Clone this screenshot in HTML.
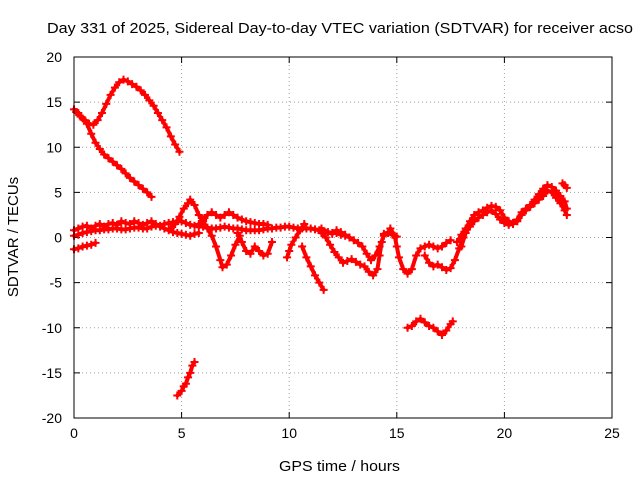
<!DOCTYPE html>
<html><head><meta charset="utf-8"><style>
body{margin:0;background:#fff}
svg{display:block;font-family:"Liberation Sans",sans-serif;font-size:13px}
</style></head><body>
<svg id="chart" width="640" height="480" xmlns="http://www.w3.org/2000/svg">
<text x="47" y="33" font-size="15" textLength="586" lengthAdjust="spacingAndGlyphs">Day 331 of 2025, Sidereal Day-to-day VTEC variation (SDTVAR) for receiver acso</text>
<text x="279" y="471" font-size="15" textLength="121" lengthAdjust="spacingAndGlyphs">GPS time / hours</text>
<text x="18" y="237" text-anchor="middle" font-size="15" transform="rotate(-90 18 237)">SDTVAR / TECUs</text>
<g id="grid"></g><g id="ticks"></g><g id="marks"></g>
<rect x="74" y="57" width="538" height="361" fill="none" stroke="#000" stroke-width="1"/>
</svg>
<script>
const xTicks=[0,5,10,15,20,25];
const yTicks=[-20,-15,-10,-5,0,5,10,15,20];
const trackA=[[0,14.2],[0.2,13.8],[0.4,13.2],[0.6,12.6],[0.8,11.5],[1.0,10.5],[1.2,9.8],[1.4,9.2],[1.6,8.8],[1.8,8.4],[2.0,8.0],[2.2,7.6],[2.4,7.1],[2.6,6.6],[2.8,6.2],[3.0,5.8],[3.2,5.4],[3.4,5.0],[3.6,4.5]];
const trackB=[[0.1,13.9],[0.3,13.4],[0.5,13.0],[0.7,12.6],[0.9,12.5],[1.1,13.0],[1.3,13.8],[1.5,14.8],[1.7,15.8],[1.9,16.6],[2.1,17.2],[2.3,17.5],[2.5,17.3],[2.7,17.0],[2.9,16.7],[3.1,16.3],[3.3,15.8],[3.5,15.2],[3.7,14.6],[3.9,13.8],[4.1,13.0],[4.3,12.2],[4.5,11.2],[4.7,10.3],[4.9,9.5]];
const trackC=[[4.8,-17.5],[5.0,-17.0],[5.1,-16.5],[5.2,-16.2],[5.3,-15.5],[5.4,-15.0],[5.5,-14.2],[5.6,-13.8]];
const trackD=[[15.5,-10.0],[15.7,-9.8],[15.9,-9.3],[16.1,-9.0],[16.3,-9.4],[16.5,-9.8],[16.7,-10.0],[16.9,-10.4],[17.1,-10.8],[17.3,-10.3],[17.5,-9.6],[17.6,-9.3]];
const trackE=[[0,0.8],[0.2,1.0],[0.4,1.2],[0.6,1.3],[0.8,1.0],[1.0,1.3],[1.2,1.5],[1.4,1.2],[1.6,1.5],[1.8,1.6],[2.0,1.4],[2.2,1.8],[2.4,1.6],[2.6,1.5],[2.8,1.8],[3.0,1.6],[3.2,1.4],[3.4,1.6],[3.6,1.8],[3.8,1.5],[4.0,1.2],[4.2,1.0],[4.4,0.8],[4.6,0.6],[4.8,0.5],[5.0,0.4],[5.2,0.3],[5.4,0.2],[5.6,0.4],[5.8,0.5]];
const trackE2=[[0,0.2],[0.2,0.3],[0.4,0.5],[0.6,0.6],[0.8,0.7],[1.0,0.8],[1.2,0.8],[1.4,0.9],[1.6,0.9],[1.8,1.0],[2.0,1.0],[2.2,0.9],[2.4,0.9],[2.6,1.0],[2.8,1.1],[3.0,1.1],[3.2,1.0],[3.4,1.0],[3.6,1.2],[3.8,1.3],[4.0,1.3],[4.2,1.5],[4.4,1.6],[4.6,1.7],[4.8,1.8],[5.0,1.8],[5.2,1.6],[5.4,1.4],[5.6,1.3],[5.8,1.2],[6.0,1.2],[6.2,1.1],[6.4,1.0],[6.6,1.0],[6.8,1.1],[7.0,1.2],[7.2,1.1],[7.4,1.0],[7.6,1.0],[7.8,0.9],[8.0,0.8],[8.2,0.8],[8.4,0.8],[8.6,0.8],[8.8,0.9],[9.0,1.0],[9.2,1.0],[9.4,1.1],[9.6,1.1],[9.8,1.2],[10.0,1.2],[10.2,1.1],[10.4,1.0],[10.6,1.0],[10.8,1.0],[11.0,1.0],[11.2,0.9],[11.4,0.8],[11.6,0.7],[11.8,0.6],[12.0,0.5],[12.2,0.5],[12.4,0.3],[12.6,0.2]];
const trackE3=[[14.4,0.4],[14.6,0.5],[14.8,0.3],[15.0,0.1]];
const trackF=[[0,-1.3],[0.2,-1.2],[0.4,-1.0],[0.6,-0.9],[0.8,-0.8],[1.0,-0.6]];
const trackG=[[4.5,1.0],[4.7,1.5],[4.9,2.3],[5.1,3.2],[5.3,3.8],[5.4,4.2],[5.6,3.6],[5.8,2.5],[6.0,1.8],[6.2,1.0],[6.4,0.2],[6.6,-1.0],[6.8,-2.5],[6.9,-3.3],[7.1,-3.0],[7.3,-2.0],[7.5,-0.8],[7.7,0.2]];
const trackH=[[5.8,1.5],[6.0,2.0],[6.2,2.5],[6.4,2.8],[6.6,2.5],[6.8,2.2],[7.0,2.5],[7.2,2.8],[7.4,2.5],[7.6,2.2],[7.8,2.0],[8.0,1.8],[8.2,1.7],[8.4,1.6],[8.6,1.5],[8.8,1.5],[9.0,1.4]];
const trackI=[[7.6,0.5],[7.8,-0.5],[8.0,-1.5],[8.2,-1.8],[8.4,-1.0],[8.6,-1.5],[8.8,-2.0],[9.0,-1.8],[9.2,-0.5]];
const trackJ=[[9.9,-2.2],[10.0,-1.5],[10.1,-0.8],[10.3,0],[10.5,0.8],[10.7,1.5]];
const trackK=[[10.6,-1.0],[10.8,-2.2],[11.0,-3.2],[11.2,-4.2],[11.4,-5.0],[11.6,-5.8]];
const trackL=[[11.5,0.5],[11.7,0],[11.9,-0.8],[12.1,-1.6],[12.3,-2.2],[12.5,-2.8],[12.7,-2.6],[12.9,-2.4],[13.1,-2.7],[13.3,-3.0],[13.5,-3.2],[13.7,-3.8],[13.9,-4.2],[14.1,-3.5],[14.2,-2.0],[14.3,-0.5]];
const trackM=[[11.5,1.0],[11.8,0.6],[12.0,0.4],[12.2,0.8],[12.4,0.6],[12.6,0.3],[12.8,0],[13.0,-0.3],[13.2,-0.6],[13.4,-1.0],[13.6,-1.8],[13.8,-2.5],[14.0,-2.0],[14.2,-1.0],[14.4,0.2],[14.6,0.6]];
const trackN=[[14.7,1.0],[14.9,0.2],[15.0,-1.0],[15.1,-2.2],[15.3,-3.5],[15.5,-4.0],[15.7,-3.5],[15.9,-2.0],[16.1,-1.2],[16.3,-1.0],[16.5,-0.8],[16.7,-1.0],[16.9,-1.2],[17.1,-1.0],[17.3,-0.6],[17.5,-0.3]];
const trackO=[[16.3,-2.0],[16.5,-2.8],[16.7,-3.2],[16.9,-3.0],[17.1,-3.3],[17.3,-3.6],[17.5,-3.4],[17.7,-2.5],[17.9,-1.2],[18.1,0]];
const trackP=[[17.8,-0.5],[18.0,0.3],[18.2,1.0],[18.4,1.8],[18.6,2.5],[18.8,2.8],[19.0,3.0],[19.2,3.3],[19.4,3.5],[19.6,3.4],[19.8,3.0],[20.0,2.2],[20.2,1.8],[20.4,1.6],[20.6,1.8],[20.8,2.5],[21.0,3.2],[21.2,3.6],[21.4,4.2],[21.6,4.8],[21.8,5.4],[22.0,5.8],[22.2,5.6],[22.4,5.2],[22.6,4.6],[22.8,4.0],[22.9,3.2]];
const trackQ=[[18.0,-1.0],[18.2,0.5],[18.4,1.2],[18.6,1.8],[18.8,2.2],[19.0,2.5],[19.2,2.8],[19.4,3.0],[19.6,2.6],[19.8,2.0],[20.0,1.6],[20.2,1.4],[20.4,1.5],[20.6,2.0],[20.8,2.8],[21.0,3.0],[21.2,3.4],[21.4,3.8],[21.6,4.2],[21.8,4.6],[22.0,5.2],[22.2,5.0],[22.4,4.4],[22.6,3.8],[22.8,3.0],[22.9,2.5]];
const trackR=[[22.7,6.0],[22.8,5.8],[22.9,5.5]];
const tracks=[trackA,trackB,trackC,trackD,trackE,trackE2,trackE3,trackF,trackG,trackH,trackI,trackJ,trackK,trackL,trackM,trackN,trackO,trackP,trackQ,trackR];

const X0=74,X1=612,Y0=418,Y1=57;
const xs=v=>X0+(v-0)/25*(X1-X0);
const ys=v=>Y0-(v+20)/40*(Y0-Y1);
const NS="http://www.w3.org/2000/svg";
const grid=document.getElementById('grid'),ticks=document.getElementById('ticks'),marks=document.getElementById('marks');
function mk(tag,attrs,parent){const e=document.createElementNS(NS,tag);for(const k in attrs)e.setAttribute(k,attrs[k]);parent.appendChild(e);return e;}
xTicks.forEach(t=>{
  const x=xs(t);
  if(t>0&&t<25){const g=mk('line',{x1:x,x2:x,y1:Y1,y2:Y0,stroke:'#a0a0a0','stroke-dasharray':'1,3'},grid);
  
  }
  mk('line',{x1:x,x2:x,y1:Y0,y2:Y0-6,stroke:'#000'},ticks);
  mk('line',{x1:x,x2:x,y1:Y1,y2:Y1+6,stroke:'#000'},ticks);
  const l=mk('text',{x:x,y:Y0+20,'text-anchor':'middle','font-size':14},ticks);l.textContent=t;
  
  
});
yTicks.forEach(t=>{
  const y=ys(t);
  if(t>-20&&t<20){const g=mk('line',{x1:X0,x2:X1,y1:y,y2:y,stroke:'#a0a0a0','stroke-dasharray':'1,3'},grid);
  
  }
  mk('line',{x1:X0,x2:X0+6,y1:y,y2:y,stroke:'#000'},ticks);
  mk('line',{x1:X1,x2:X1-6,y1:y,y2:y,stroke:'#000'},ticks);
  const l=mk('text',{x:X0-12,y:y+5,'text-anchor':'end','font-size':14},ticks);l.textContent=t;
  
  
});
let d='';
tracks.forEach(tr=>{
  const pts=tr.map(p=>xs(p[0])+','+ys(p[1])).join(' ');
  const pl=mk('polyline',{points:pts,stroke:'#ff0000','stroke-width':4,fill:'none','stroke-linejoin':'round','stroke-linecap':'round'},marks);
  
  
  tr.forEach(p=>{const x=xs(p[0]),y=ys(p[1]);d+=`M${x-4},${y}h8M${x},${y-4}v8`;});
});
const path=mk('path',{d:d,stroke:'#ff0000','stroke-width':2,fill:'none'},marks);


</script>
</body></html>
